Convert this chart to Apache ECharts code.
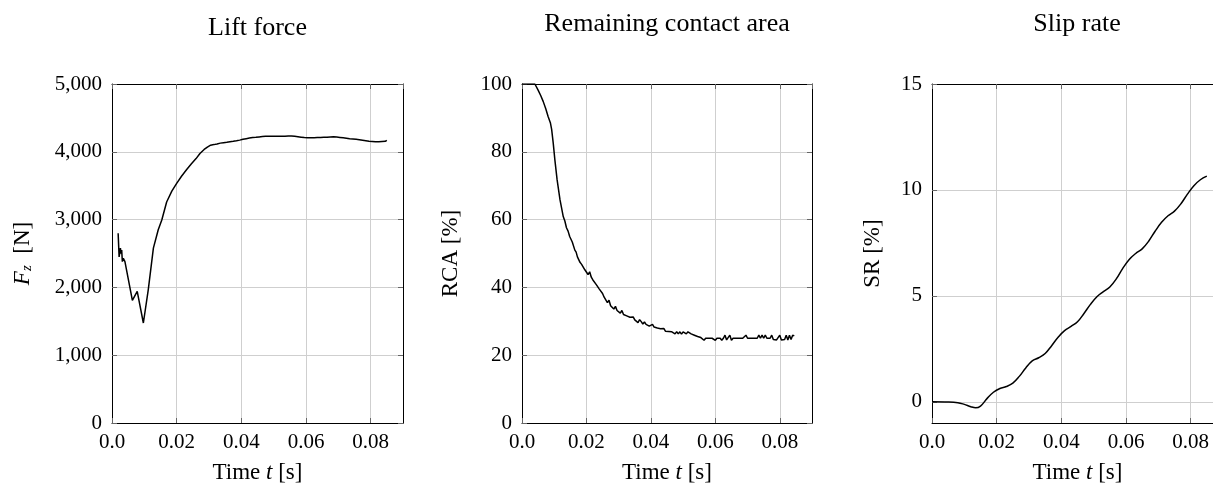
<!DOCTYPE html>
<html>
<head>
<meta charset="utf-8">
<script src="https://cdn.jsdelivr.net/npm/echarts@6/dist/echarts.min.js"></script>
<style>
  html, body { margin: 0; padding: 0; background: #fff; }
  #chart { width: 1213px; height: 484px; }
</style>
</head>
<body>
<div id="chart"></div>
<script>
// Lift force F_z [N] over time t [s]
const liftForce = [
  [0.0019, 2800], [0.0022, 2450], [0.0026, 2580], [0.0028, 2500], [0.0030, 2550],
  [0.0032, 2380], [0.0035, 2430], [0.0040, 2380], [0.0045, 2400], [0.0063, 1810],
  [0.0078, 1940], [0.0097, 1475], [0.0112, 1960], [0.0128, 2580], [0.0143, 2850],
  [0.0154, 2995], [0.0169, 3260], [0.0185, 3420], [0.0200, 3535], [0.0215, 3640],
  [0.0231, 3740], [0.0245, 3820], [0.0260, 3900], [0.0272, 3975], [0.0285, 4035],
  [0.0295, 4070], [0.0305, 4098], [0.0310, 4112], [0.0315, 4106], [0.0320, 4124],
  [0.0325, 4116], [0.0330, 4136], [0.0335, 4128], [0.0340, 4142], [0.0345, 4134],
  [0.0350, 4148], [0.0355, 4140], [0.0360, 4155], [0.0365, 4147], [0.0370, 4162],
  [0.0375, 4154], [0.0380, 4170], [0.0385, 4162], [0.0390, 4178], [0.0395, 4172],
  [0.0400, 4190], [0.0405, 4184], [0.0410, 4202], [0.0415, 4194], [0.0420, 4212],
  [0.0425, 4203], [0.0430, 4222], [0.0435, 4210], [0.0440, 4230], [0.0445, 4214],
  [0.0450, 4240], [0.0455, 4220], [0.0460, 4246], [0.0465, 4224], [0.0470, 4250],
  [0.0475, 4228], [0.0480, 4252], [0.0485, 4230], [0.0490, 4253], [0.0495, 4230],
  [0.0500, 4252], [0.0505, 4229], [0.0510, 4251], [0.0515, 4228], [0.0520, 4250],
  [0.0525, 4228], [0.0530, 4251], [0.0535, 4229], [0.0540, 4254], [0.0545, 4232],
  [0.0550, 4256], [0.0555, 4233], [0.0560, 4252], [0.0565, 4228], [0.0570, 4246],
  [0.0575, 4222], [0.0580, 4240], [0.0585, 4216], [0.0590, 4234], [0.0595, 4210],
  [0.0600, 4230], [0.0605, 4206], [0.0610, 4228], [0.0615, 4206], [0.0620, 4230],
  [0.0625, 4208], [0.0630, 4232], [0.0635, 4210], [0.0640, 4234], [0.0645, 4212],
  [0.0650, 4236], [0.0655, 4214], [0.0660, 4238], [0.0665, 4216], [0.0670, 4242],
  [0.0675, 4220], [0.0680, 4244], [0.0685, 4222], [0.0690, 4242], [0.0695, 4218],
  [0.0700, 4236], [0.0705, 4212], [0.0710, 4230], [0.0715, 4206], [0.0720, 4224],
  [0.0725, 4200], [0.0730, 4218], [0.0735, 4194], [0.0740, 4214], [0.0745, 4190],
  [0.0750, 4208], [0.0755, 4184], [0.0760, 4202], [0.0765, 4178], [0.0770, 4196],
  [0.0775, 4172], [0.0780, 4190], [0.0785, 4164], [0.0790, 4182], [0.0795, 4156],
  [0.0800, 4176], [0.0805, 4152], [0.0810, 4172], [0.0815, 4148], [0.0820, 4169],
  [0.0825, 4148], [0.0830, 4172], [0.0835, 4151], [0.0840, 4174], [0.0845, 4154],
  [0.0850, 4170]
];

// Remaining contact area RCA [%] over time t [s]
const contactArea = [
  [0.0000, 100], [0.0040, 100], [0.0050, 98.2], [0.0058, 96.6], [0.0066, 94.8],
  [0.0074, 92.6], [0.0081, 90.4], [0.0088, 88.6], [0.0092, 86.6], [0.0097, 82.5],
  [0.0102, 77.6], [0.0109, 71.7], [0.0118, 65.8], [0.0128, 60.9], [0.0133, 59.6],
  [0.0138, 57.6], [0.0143, 56.6], [0.0148, 55.0], [0.0156, 53.4], [0.0164, 51.0],
  [0.0168, 50.4], [0.0172, 49.0], [0.0176, 48.6], [0.0180, 47.4], [0.0185, 46.8],
  [0.0190, 46.3], [0.0195, 45.2], [0.0200, 45.6], [0.0205, 43.8], [0.0210, 44.6],
  [0.0215, 43.0], [0.0220, 42.2], [0.0225, 42.5], [0.0230, 40.9], [0.0235, 40.6],
  [0.0240, 39.5], [0.0245, 39.0], [0.0250, 38.2], [0.0255, 37.1], [0.0260, 36.9],
  [0.0265, 35.5], [0.0270, 36.2], [0.0275, 34.6], [0.0280, 34.9], [0.0285, 33.6],
  [0.0290, 34.4], [0.0295, 33.2], [0.0300, 33.5], [0.0305, 32.4], [0.0310, 33.2],
  [0.0315, 32.0], [0.0320, 32.3], [0.0325, 31.6], [0.0330, 31.9], [0.0335, 31.2],
  [0.0340, 30.8], [0.0345, 31.3], [0.0350, 30.4], [0.0355, 30.7], [0.0360, 29.6],
  [0.0365, 30.5], [0.0370, 29.9], [0.0375, 29.2], [0.0380, 29.8], [0.0385, 29.1],
  [0.0390, 29.3], [0.0395, 28.6], [0.0400, 28.5], [0.0405, 29.1], [0.0410, 28.3],
  [0.0415, 28.2], [0.0420, 28.0], [0.0425, 28.1], [0.0430, 27.8], [0.0435, 27.5],
  [0.0440, 27.9], [0.0445, 27.1], [0.0450, 27.2], [0.0455, 27.0], [0.0460, 27.1],
  [0.0465, 26.9], [0.0470, 26.9], [0.0475, 26.3], [0.0480, 26.9], [0.0485, 26.3],
  [0.0490, 26.9], [0.0495, 26.2], [0.0500, 26.9], [0.0505, 26.9], [0.0510, 26.3],
  [0.0515, 26.9], [0.0520, 26.6], [0.0525, 26.3], [0.0530, 26.0], [0.0535, 25.9],
  [0.0540, 25.6], [0.0545, 25.5], [0.0550, 25.3], [0.0555, 25.2], [0.0560, 25.0],
  [0.0565, 24.4], [0.0570, 25.0], [0.0575, 24.5], [0.0580, 25.0], [0.0585, 25.0],
  [0.0590, 25.0], [0.0595, 25.0], [0.0600, 24.4], [0.0605, 25.0], [0.0610, 24.5],
  [0.0615, 25.0], [0.0620, 24.4], [0.0625, 25.0], [0.0630, 25.9], [0.0635, 24.5],
  [0.0640, 25.0], [0.0645, 25.9], [0.0650, 24.4], [0.0655, 25.0], [0.0660, 25.0],
  [0.0665, 25.0], [0.0670, 25.0], [0.0675, 25.0], [0.0680, 25.0], [0.0685, 25.0],
  [0.0690, 25.0], [0.0695, 25.9], [0.0700, 25.0], [0.0705, 25.0], [0.0710, 25.0],
  [0.0715, 25.0], [0.0720, 25.0], [0.0725, 25.0], [0.0730, 25.0], [0.0735, 25.9],
  [0.0740, 25.0], [0.0745, 25.9], [0.0750, 25.0], [0.0755, 25.9], [0.0760, 25.0],
  [0.0765, 24.6], [0.0770, 25.0], [0.0775, 25.9], [0.0780, 24.6], [0.0785, 25.0],
  [0.0790, 24.5], [0.0795, 25.0], [0.0800, 25.9], [0.0805, 24.5], [0.0810, 25.0],
  [0.0815, 24.6], [0.0820, 25.9], [0.0825, 24.5], [0.0830, 25.9], [0.0835, 24.6],
  [0.0840, 25.9], [0.0845, 25.7]
];

// Slip rate SR [%] over time t [s]
const slipRate = [
  [0.000, 0.00], [0.004, -0.01], [0.008, -0.04], [0.010, -0.12], [0.012, -0.23],
  [0.0135, -0.28], [0.015, -0.20], [0.017, 0.15], [0.019, 0.45], [0.021, 0.63],
  [0.023, 0.72], [0.025, 0.88], [0.027, 1.20], [0.029, 1.60], [0.031, 1.93],
  [0.033, 2.08], [0.035, 2.28], [0.037, 2.65], [0.039, 3.05], [0.041, 3.36],
  [0.043, 3.56], [0.045, 3.78], [0.047, 4.17], [0.049, 4.60], [0.051, 4.96],
  [0.053, 5.20], [0.055, 5.42], [0.057, 5.80], [0.059, 6.30], [0.061, 6.72],
  [0.063, 7.00], [0.065, 7.22], [0.067, 7.58], [0.069, 8.05], [0.071, 8.47],
  [0.073, 8.78], [0.075, 9.00], [0.077, 9.35], [0.079, 9.80], [0.081, 10.20],
  [0.083, 10.48], [0.085, 10.65]
];

const panelTitles = ['Lift force', 'Remaining contact area', 'Slip rate'];
const slipTicks = [0, 5, 10, 15];

const FONT = '"Liberation Serif", "DejaVu Serif", serif';
const GRID_COLOR = '#cfcfcf';
const TICK_COLOR = '#666';
const TICK_SIZE = 21;
const NAME_SIZE = 23;
const TITLE_SIZE = 26;

// fixed plot rectangles; labels and names may sit outside them freely
const grids = [
  { left: 112, top: 84, width: 291, height: 339, outerBoundsMode: 'none', containLabel: false },
  { left: 522, top: 84, width: 290, height: 339, outerBoundsMode: 'none', containLabel: false },
  { left: 932, top: 84, width: 291, height: 339, outerBoundsMode: 'none', containLabel: false }
];

const timeFmt = v => (v === 0 ? '0.0' : v.toFixed(2));
const thousands = v => String(v).replace(/\B(?=(\d{3})+(?!\d))/g, ',');

function xAxesFor(i) {
  const common = {
    type: 'value', gridIndex: i, min: 0, max: 0.09, interval: 0.02,
    axisLine: { show: true, onZero: false, lineStyle: { color: '#000', width: 1 } },
    axisTick: { show: true, inside: true, length: 5, lineStyle: { color: TICK_COLOR } }
  };
  return [
    Object.assign({}, common, {
      position: 'bottom',
      axisLabel: { color: '#000', fontFamily: FONT, fontSize: TICK_SIZE, margin: 9,
                   showMaxLabel: false, formatter: timeFmt },
      splitLine: { show: true, lineStyle: { color: GRID_COLOR, width: 1 } },
      name: 'Time {i|t} [s]', nameLocation: 'middle', nameGap: 38,
      nameTextStyle: { color: '#000', fontFamily: FONT, fontSize: NAME_SIZE,
        rich: { i: { fontFamily: FONT, fontSize: NAME_SIZE, fontStyle: 'italic', color: '#000' } } }
    }),
    Object.assign({}, common, {
      position: 'top', axisLabel: { show: false }, splitLine: { show: false }
    })
  ];
}

function yAxesFor(i, cfg) {
  const common = Object.assign({
    type: 'value', gridIndex: i,
    axisLine: { show: true, onZero: false, lineStyle: { color: '#000', width: 1 } }
  }, cfg.scale);
  const tick = { show: true, inside: true, length: 5, lineStyle: { color: TICK_COLOR } };
  if (cfg.ticks) tick.customValues = cfg.ticks;
  const label = { color: '#000', fontFamily: FONT, fontSize: TICK_SIZE, margin: 10, formatter: cfg.fmt };
  if (cfg.ticks) label.customValues = cfg.ticks;
  return [
    Object.assign({}, common, {
      position: 'left', axisTick: tick, axisLabel: label,
      splitLine: { show: true, lineStyle: { color: GRID_COLOR, width: 1 } },
      name: cfg.name, nameLocation: 'middle', nameGap: cfg.gap, nameRotate: 90,
      nameTextStyle: { color: '#000', fontFamily: FONT, fontSize: NAME_SIZE, rich: cfg.rich || {} }
    }),
    Object.assign({}, common, {
      position: 'right', axisTick: tick, axisLabel: { show: false }, splitLine: { show: false }
    })
  ];
}

const yCfgs = [
  { scale: { min: 0, max: 5000, interval: 1000 }, fmt: thousands,
    name: '{i|F}{s|z}  [N]', gap: 77,
    rich: { i: { fontFamily: FONT, fontSize: NAME_SIZE, fontStyle: 'italic', color: '#000' },
            s: { fontFamily: FONT, fontSize: 15, fontStyle: 'italic', color: '#000', padding: [9, 0, 0, 0] } } },
  { scale: { min: 0, max: 100, interval: 20 }, fmt: v => String(v),
    name: 'RCA [%]', gap: 60 },
  { scale: { min: -1, max: 15 }, fmt: v => String(v), ticks: slipTicks,
    name: 'SR [%]', gap: 48 }
];

const xAxis = [], yAxis = [];
for (let i = 0; i < 3; i++) {
  xAxis.push(...xAxesFor(i));
  yAxis.push(...yAxesFor(i, yCfgs[i]));
}

const lineSeries = (data, i, smooth) => ({
  type: 'line', xAxisIndex: 2 * i, yAxisIndex: 2 * i, data,
  showSymbol: false, smooth: smooth, clip: true,
  lineStyle: { color: '#000', width: 1.5 }, itemStyle: { color: '#000' }
});

const titleY = [28, 24, 24];
const titleX = [257.5, 667, 1077];

const option = {
  animation: false,
  backgroundColor: '#fff',
  grid: grids,
  xAxis, yAxis,
  series: [
    lineSeries(liftForce, 0, false),
    lineSeries(contactArea, 1, false),
    lineSeries(slipRate, 2, 0.4)
  ],
  graphic: panelTitles.map((t, i) => ({
    type: 'text', x: titleX[i], y: titleY[i],
    style: { text: t, fill: '#000', font: TITLE_SIZE + 'px ' + FONT, align: 'center', verticalAlign: 'middle' }
  }))
};

const chart = echarts.init(document.getElementById('chart'), null, { renderer: 'canvas' });
chart.setOption(option);
</script>
</body>
</html>
